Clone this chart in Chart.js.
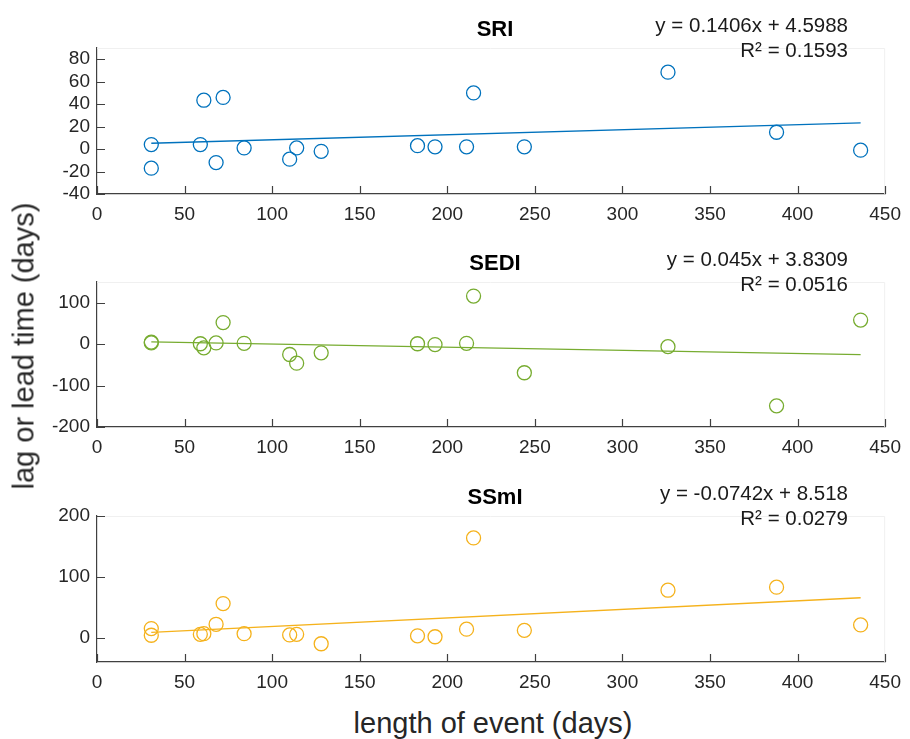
<!DOCTYPE html>
<html>
<head>
<meta charset="utf-8">
<script src="https://cdn.jsdelivr.net/npm/chart.js@4/dist/chart.umd.min.js"></script>
<style>
  body { margin: 0; background: #fff; }
  #wrap { position: relative; width: 910px; height: 739px; overflow: hidden; font-family: "Liberation Sans", Arial, sans-serif; color: #262626; }
  canvas { position: absolute; left: 0; }
  .ytitle { position: absolute; left: 24px; top: 346px; transform: translate(-50%, -50%) rotate(-90deg); font-size: 29px; white-space: nowrap; }
  .xtitle { position: absolute; left: 493px; top: 723px; transform: translate(-50%, -50%); font-size: 29px; white-space: nowrap; }
</style>
</head>
<body>
<div id="wrap">
  <canvas id="c1" width="910" height="229" style="top:0px"></canvas>
  <canvas id="c2" width="910" height="228" style="top:234px"></canvas>
  <canvas id="c3" width="910" height="229" style="top:468px"></canvas>
  <div class="ytitle">lag or lead time (days)</div>
  <div class="xtitle">length of event (days)</div>
</div>
<script>
// event length (days), shared by all three indices
const eventLength = [31, 31, 59, 61, 68, 72, 84, 110, 114, 128, 183, 193, 211, 215, 244, 326, 388, 436];

// lag or lead time (days)
const sriLag  = [4, -17, 4, 43.5, -12, 46, 1, -9, 1, -2, 3, 2, 2, 50, 2, 68.5, 15, -1];
const sediLag = [5, 3, 1, -9, 3, 52, 2, -25, -46, -21, 1, -1, 2, 116, -69, -6, -149, 58];
const ssmiLag = [15, 4, 5.5, 6.5, 22, 56, 6.5, 4.5, 5.5, -10, 3, 1.5, 14, 164, 12, 78, 83, 21];

const panelNames = ["SRI", "SEDI", "SSmI"];
const eqLines = [
    ["y = 0.1406x + 4.5988", "R\u00b2 = 0.1593"],
    ["y = 0.045x + 3.8309", "R\u00b2 = 0.0516"],
    ["y = -0.0742x + 8.518", "R\u00b2 = 0.0279"]
];

const xTicks = [0, 50, 100, 150, 200, 250, 300, 350, 400, 450];
const sriTicks = [-40, -20, 0, 20, 40, 60, 80];
const sediTicks = [-200, -100, 0, 100];
const ssmiTicks = [0, 100, 200];

const colors = ["#0072BD", "#77AC30", "#F5B21C"];
const axisColor = "#404040";
const font = '"Liberation Sans", Arial, sans-serif';

// least squares fit through the plotted points
function linearFit(xs, ys) {
    const n = xs.length;
    const mx = xs.reduce((s, v) => s + v, 0) / n;
    const my = ys.reduce((s, v) => s + v, 0) / n;
    let sxy = 0, sxx = 0;
    xs.forEach((x, i) => {
        sxy += (x - mx) * (ys[i] - my);
        sxx += (x - mx) * (x - mx);
    });
    const slope = sxy / sxx;
    return { slope, intercept: my - slope * mx };
}

const innerTicks = {
    id: "innerTicks",
    afterDraw(chart, args, opts) {
        const { ctx, chartArea: a, scales: { x, y } } = chart;
        ctx.save();

        // faint box on top and right
        ctx.strokeStyle = "#f0f0f0";
        ctx.lineWidth = 1;
        ctx.beginPath();
        ctx.moveTo(a.left, a.top + 0.5);
        ctx.lineTo(a.right - 0.5, a.top + 0.5);
        ctx.lineTo(a.right - 0.5, a.bottom);
        ctx.stroke();

        // tick marks pointing into the plot
        ctx.strokeStyle = axisColor;
        ctx.lineWidth = 1.2;
        ctx.beginPath();
        x.ticks.forEach(t => {
            const px = Math.round(x.getPixelForValue(t.value)) + 0.5;
            ctx.moveTo(px, a.bottom);
            ctx.lineTo(px, a.bottom - 8);
        });
        y.ticks.forEach(t => {
            const py = Math.round(y.getPixelForValue(t.value)) + 0.5;
            ctx.moveTo(a.left, py);
            ctx.lineTo(a.left + 8, py);
        });
        ctx.stroke();

        // panel title and trend equation
        ctx.fillStyle = "#000";
        ctx.font = "bold 22px " + font;
        ctx.textAlign = "center";
        ctx.textBaseline = "middle";
        ctx.fillText(opts.name, 495, a.top - 18);

        ctx.fillStyle = "#1a1a1a";
        ctx.font = "20.5px " + font;
        ctx.textAlign = "right";
        ctx.fillText(opts.eq[0], 848, a.top - 22);
        ctx.fillText(opts.eq[1], 848, a.top + 3);
        ctx.restore();
    }
};

function makePanel(id, lag, yMin, yMax, yTicks, color, idx) {
    const pts = eventLength.map((x, i) => ({ x, y: lag[i] }));
    const fit = linearFit(eventLength, lag);
    const x0 = Math.min(...eventLength);
    const x1 = Math.max(...eventLength);
    const trend = [
        { x: x0, y: fit.intercept + fit.slope * x0 },
        { x: x1, y: fit.intercept + fit.slope * x1 }
    ];

    return new Chart(document.getElementById(id), {
        type: "scatter",
        data: {
            datasets: [
                {
                    data: trend,
                    showLine: true,
                    borderColor: color,
                    borderWidth: 1.3,
                    pointRadius: 0
                },
                {
                    data: pts,
                    pointStyle: "circle",
                    pointRadius: 7,
                    pointBorderWidth: 1.3,
                    borderColor: color,
                    backgroundColor: "rgba(0,0,0,0)"
                }
            ]
        },
        options: {
            responsive: false,
            animation: false,
            layout: { padding: { top: 48, right: 17, left: 0, bottom: 0 } },
            plugins: {
                legend: { display: false },
                tooltip: { enabled: false },
                innerTicks: { name: panelNames[idx], eq: eqLines[idx] }
            },
            scales: {
                x: {
                    type: "linear",
                    min: 0,
                    max: 450,
                    afterBuildTicks: s => { s.ticks = xTicks.map(v => ({ value: v })); },
                    afterFit: s => { s.height = 35; },
                    grid: { drawOnChartArea: false, drawTicks: false },
                    border: { display: true, color: axisColor, width: 1.2 },
                    ticks: { autoSkip: false, maxRotation: 0, padding: 9, color: "#262626", font: { family: font, size: 19 } }
                },
                y: {
                    type: "linear",
                    min: yMin,
                    max: yMax,
                    afterBuildTicks: s => { s.ticks = yTicks.map(v => ({ value: v })); },
                    afterFit: s => { s.width = 97; },
                    grid: { drawOnChartArea: false, drawTicks: false },
                    border: { display: true, color: axisColor, width: 1.2 },
                    ticks: { autoSkip: false, padding: 7, color: "#262626", font: { family: font, size: 19 } }
                }
            }
        },
        plugins: [innerTicks]
    });
}

makePanel("c1", sriLag, -40, 90, sriTicks, colors[0], 0);
makePanel("c2", sediLag, -200, 150, sediTicks, colors[1], 1);
makePanel("c3", ssmiLag, -40, 200, ssmiTicks, colors[2], 2);
</script>
</body>
</html>
